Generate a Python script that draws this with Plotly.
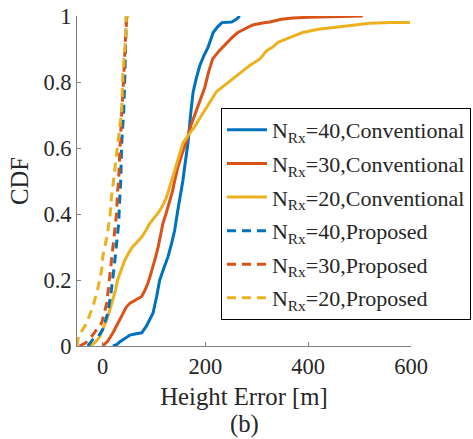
import plotly.graph_objects as go

# ---- data (height error in m, CDF) ----
conv40_x = [20, 27, 33, 45, 53, 65, 76, 85, 92, 98, 105, 111, 120, 127, 134, 140, 146, 151, 156, 161, 166, 171, 176, 182, 189, 197, 205, 215, 224, 232, 242, 251, 260, 267]
conv40_y = [0, 0.004, 0.012, 0.025, 0.033, 0.037, 0.04, 0.06, 0.08, 0.1, 0.15, 0.2, 0.24, 0.27, 0.31, 0.35, 0.41, 0.455, 0.5, 0.56, 0.615, 0.7, 0.77, 0.81, 0.85, 0.88, 0.905, 0.95, 0.968, 0.98, 0.98, 0.982, 0.99, 1.0]

conv30_x = [0, 10, 20, 33, 39, 46, 53, 58, 66, 76, 82, 88, 93, 98, 103, 108, 113, 117, 124, 131, 136, 140, 146, 154, 163, 172, 182, 190, 199, 206, 214, 227, 241, 252, 263, 278, 292, 308, 325, 348, 370, 400, 436, 470, 506]
conv30_y = [0, 0.015, 0.04, 0.08, 0.1, 0.118, 0.13, 0.134, 0.142, 0.15, 0.168, 0.19, 0.215, 0.24, 0.27, 0.3, 0.335, 0.37, 0.405, 0.44, 0.47, 0.5, 0.54, 0.58, 0.62, 0.67, 0.715, 0.75, 0.785, 0.83, 0.87, 0.895, 0.918, 0.935, 0.95, 0.962, 0.973, 0.978, 0.982, 0.99, 0.994, 0.996, 0.997, 0.999, 1.0]

conv20_x = [-25, -15, -6, 0, 8, 14, 20, 25, 29, 36, 43, 50, 58, 67, 76, 84, 91, 101, 111, 118, 124, 134, 145, 156, 167, 179, 189, 199, 210, 221, 237, 253, 270, 286, 306, 319, 331, 341, 365, 389, 420, 455, 490, 520, 560, 598]
conv20_y = [0, 0.01, 0.027, 0.05, 0.08, 0.11, 0.14, 0.17, 0.2, 0.23, 0.26, 0.28, 0.3, 0.315, 0.33, 0.35, 0.37, 0.39, 0.41, 0.43, 0.45, 0.5, 0.56, 0.615, 0.64, 0.665, 0.69, 0.715, 0.745, 0.77, 0.79, 0.81, 0.83, 0.85, 0.87, 0.895, 0.906, 0.92, 0.935, 0.95, 0.96, 0.967, 0.973, 0.978, 0.98, 0.98]

prop40_x = [-29, -19, -8, 0, 10, 17, 23, 27, 31, 33, 35, 37, 41, 43, 45, 46]
prop40_y = [0, 0.02, 0.03, 0.05, 0.1, 0.17, 0.25, 0.32, 0.37, 0.44, 0.5, 0.615, 0.715, 0.815, 0.92, 1.0]

prop30_x = [-45, -33, -21, -2, 8, 14, 17, 23, 27, 29, 31, 34, 38, 41, 44, 47]
prop30_y = [0, 0.01, 0.03, 0.07, 0.13, 0.21, 0.26, 0.33, 0.4, 0.47, 0.5, 0.615, 0.715, 0.815, 0.92, 1.0]

prop20_x = [-50, -47, -31, -19, -10, -2, 0, 8, 14, 17, 21, 29, 37, 39, 44, 46, 56]
prop20_y = [0, 0.03, 0.07, 0.12, 0.17, 0.23, 0.27, 0.33, 0.39, 0.45, 0.5, 0.615, 0.715, 0.815, 0.92, 1.0, 1.0]

x_ticks = [0, 200, 400, 600]
y_ticks = [0, 0.2, 0.4, 0.6, 0.8, 1]
y_tick_text = ["0", "0.2", "0.4", "0.6", "0.8", "1"]

BLUE, RED, YELLOW = "#0072BD", "#D95319", "#EDB120"
FONT = "Liberation Serif, Times New Roman, serif"
TXT = "#262626"
TICK_SIZE = 22.5
LABEL_SIZE = 24.75
LEGEND_SIZE = 22

series = [
    (conv40_x, conv40_y, "N<sub>Rx</sub>=40,Conventional", BLUE, "solid"),
    (conv30_x, conv30_y, "N<sub>Rx</sub>=30,Conventional", RED, "solid"),
    (conv20_x, conv20_y, "N<sub>Rx</sub>=20,Conventional", YELLOW, "solid"),
    (prop40_x, prop40_y, "N<sub>Rx</sub>=40,Proposed", BLUE, "9px,6px"),
    (prop30_x, prop30_y, "N<sub>Rx</sub>=30,Proposed", RED, "9px,6px"),
    (prop20_x, prop20_y, "N<sub>Rx</sub>=20,Proposed", YELLOW, "9px,6px"),
]

fig = go.Figure()
for i, (xs, ys, name, col, dash) in enumerate(series):
    fig.add_trace(go.Scatter(x=xs, y=ys, mode="lines", name=name, legendgroup=f"g{i}",
                             line=dict(color=col, width=3, dash=dash)))

fig.update_layout(
    width=473, height=439,
    margin=dict(l=77, r=62, t=16, b=93, autoexpand=False),
    paper_bgcolor="white", plot_bgcolor="white",
    font=dict(family=FONT, size=TICK_SIZE, color=TXT),
    showlegend=True,
    legend=dict(x=0.431, y=0.721, xanchor="left", yanchor="top",
                bgcolor="white", bordercolor="black", borderwidth=1,
                font=dict(family=FONT, size=LEGEND_SIZE, color=TXT),
                tracegroupgap=2, itemwidth=40),
    xaxis=dict(range=[-50, 600], tickvals=x_ticks, showgrid=False, zeroline=False,
               showline=True, linecolor="#808080", linewidth=1,
               ticks="inside", ticklen=4, tickcolor="#808080",
               tickfont=dict(family=FONT, size=TICK_SIZE, color=TXT),
               title=dict(text="Height Error [m]", standoff=9, font=dict(family=FONT, size=LABEL_SIZE, color=TXT))),
    yaxis=dict(range=[0, 1], tickvals=y_ticks, ticktext=y_tick_text, showgrid=False, zeroline=False,
               showline=True, linecolor="#808080", linewidth=1,
               ticks="inside", ticklen=4, tickcolor="#808080",
               tickfont=dict(family=FONT, size=TICK_SIZE, color=TXT),
               title=dict(text="CDF", standoff=7, font=dict(family=FONT, size=LABEL_SIZE, color=TXT))),
    annotations=[dict(text="(b)", xref="paper", yref="paper", x=0.5, y=-0.236,
                      xanchor="center", yanchor="middle", showarrow=False,
                      font=dict(family=FONT, size=LABEL_SIZE, color=TXT))],
)

fig.write_html("out.html", config={"displayModeBar": False},
               post_script="document.body.style.margin='0px';document.body.style.overflow='hidden';")
